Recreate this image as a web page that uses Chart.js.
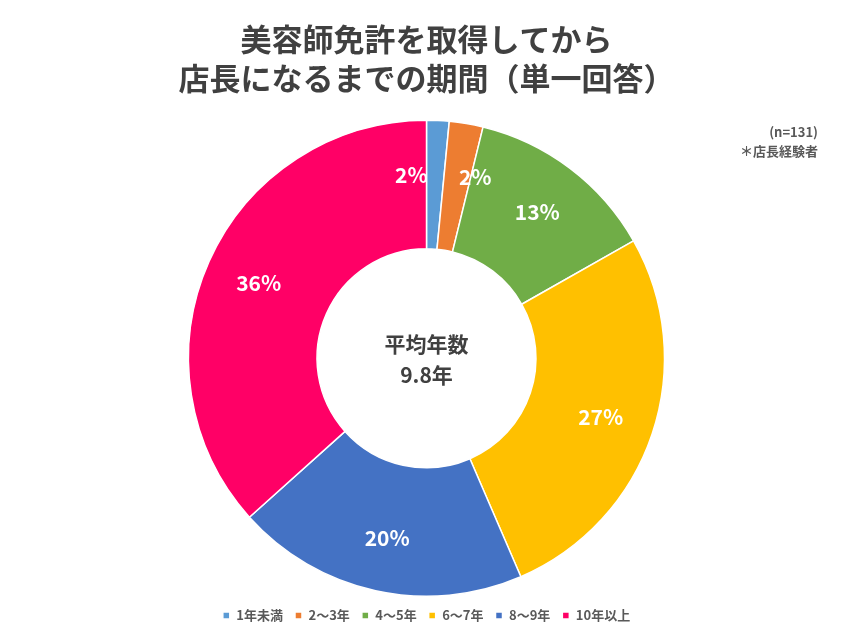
<!DOCTYPE html>
<html><head><meta charset="utf-8">
<script src="https://cdn.jsdelivr.net/npm/chart.js@4"></script>
<style>html,body{margin:0;background:#fff}#wrap{width:853px;height:640px}</style>
</head><body><div id="wrap"><canvas id="c"></canvas></div>
<script>
const categories = ['1年未満', '2〜3年', '4〜5年', '6〜7年', '8〜9年', '10年以上'];
const counts = [2, 3, 17, 35, 26, 48];
const labels = ['2%', '2%', '13%', '27%', '20%', '36%'];
const colors = ['#5B9BD5', '#ED7D31', '#70AD47', '#FFC000', '#4472C4', '#FF0066'];
const FONT = '"Noto Sans CJK JP", "Noto Sans", sans-serif';

// slice labels, centre text and the note in the corner
const extras = {
    id: 'extras',
    afterDatasetsDraw(chart) {
        const ctx = chart.ctx;
        const arcs = chart.getDatasetMeta(0).data;
        ctx.save();
        ctx.textAlign = 'center';
        ctx.textBaseline = 'middle';
        ctx.fillStyle = '#fff';
        ctx.font = 'bold 21px ' + FONT;
        arcs.forEach((a, i) => {
            const mid = (a.startAngle + a.endAngle) / 2;
            const r = (a.outerRadius + a.innerRadius) / 2 + 10;
            let x = a.x + Math.cos(mid) * r, y = a.y + Math.sin(mid) * r;
            if (i === 0) x -= 24;
            if (i === 1) x += 18;
            ctx.fillText(labels[i], x, y);
        });
        const c = arcs[0];
        ctx.fillStyle = '#404040';
        ctx.font = 'bold 21px ' + FONT;
        ctx.fillText('平均年数', c.x, c.y - 14);
        ctx.fillText('9.8年', c.x, c.y + 17);
        ctx.textAlign = 'right';
        ctx.font = 'bold 13px ' + FONT;
        ctx.fillStyle = '#595959';
        ctx.fillText('(n=131)', 818, 132);
        ctx.fillText('＊店長経験者', 818, 151);
        ctx.restore();
    }
};

new Chart(document.getElementById('c'), {
    type: 'doughnut',
    data: {
        labels: categories,
        datasets: [{
            data: counts,
            backgroundColor: colors,
            borderColor: '#fff',
            borderWidth: 1.5
        }]
    },
    options: {
        responsive: true,
        maintainAspectRatio: false,
        animation: false,
        cutout: '46%',
        layout: { padding: { top: 0, bottom: 8 } },
        plugins: {
            title: {
                display: true,
                text: ['美容師免許を取得してから', '店長になるまでの期間（単一回答）'],
                color: '#404040',
                font: { family: FONT, size: 31, weight: 'bold', lineHeight: 1.25 },
                padding: { top: 20, bottom: 22 }
            },
            legend: {
                position: 'bottom',
                labels: {
                    color: '#595959',
                    font: { family: FONT, size: 13, weight: 'bold' },
                    boxWidth: 7, boxHeight: 7, padding: 12
                }
            },
            tooltip: { enabled: false }
        }
    },
    plugins: [extras]
});
</script></body></html>
